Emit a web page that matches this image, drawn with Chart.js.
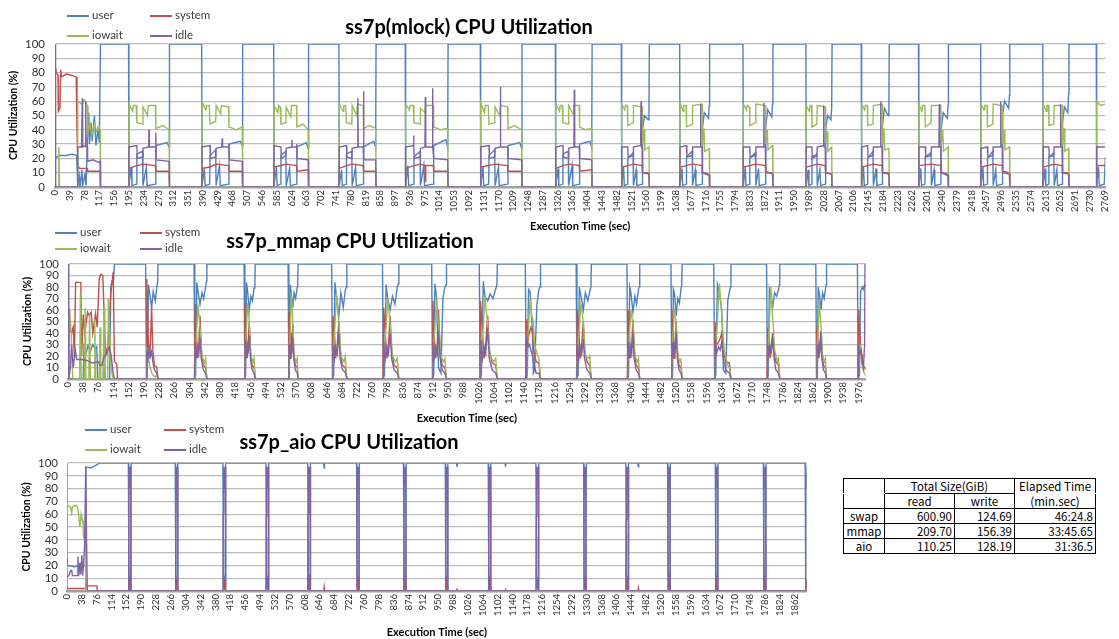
<!DOCTYPE html>
<html>
<head>
<meta charset="utf-8">
<script src="https://cdn.jsdelivr.net/npm/chart.js@4.4.1/dist/chart.umd.min.js"></script>
<style>
    body { margin: 0; width: 1119px; height: 639px; overflow: hidden; background: #fff; position: relative; font-family: Lato, "Noto Sans", sans-serif; }
    .box { position: absolute; }
    .title { position: absolute; font-weight: bold; font-size: 20px; color: #000; white-space: nowrap; transform: translate(-50%, -50%); }
    .lgItem { position: absolute; font-size: 11.5px; color: #404040; white-space: nowrap; transform: translateY(-50%); line-height: 12px; }
    .lgItem span { display: inline-block; width: 22px; height: 2px; vertical-align: middle; margin-right: 3px; }
    #sizeTable { position: absolute; left: 843px; top: 478px; width: 252px; table-layout: fixed; border-collapse: collapse; font-family: "Noto Sans CJK JP", sans-serif; font-size: 11.5px; color: #000; }
    #sizeTable td { border: 1px solid #000; height: 14px; padding: 0 2px; line-height: 13px; white-space: nowrap; overflow: hidden; }
</style>
</head>
<body>
<div class="box" style="left:0;top:0;width:1119px;height:238px"><canvas id="mlockChart" width="1119" height="238"></canvas></div>
<div class="box" style="left:0;top:238px;width:873px;height:192px"><canvas id="mmapChart" width="873" height="192"></canvas></div>
<div class="box" style="left:0;top:430px;width:809px;height:209px"><canvas id="aioChart" width="809" height="209"></canvas></div>
<div class="title" style="left:469px;top:26px">ss7p(mlock) CPU Utilization</div>
<div class="title" style="left:350px;top:240px">ss7p_mmap CPU Utilization</div>
<div class="title" style="left:349px;top:441px">ss7p_aio CPU Utilization</div>
<table id="sizeTable"></table>
<script>
// Series names and colours
const SERIES_NAMES = ['user', 'system', 'iowait', 'idle'];
const SERIES_COLORS = ['#4F81BD', '#C0504D', '#9BBB59', '#8064A2'];

// ss7p(mlock) - [sec, %]
const mlockUser = [
    [0,0],[1,20],[10,22],[30,22],[45,23],[57,22],[60,1],[64,8],[66,0],[71,12],[73,1],[79,9],[82,1],[86,36],[89,52],[91,30],[95,45],[98,32],[104,50],[108,29],[113,40],[117,31],[120,100],
    [194,100],[195,1],[201,14],[203,1],[215,2],[216,23],[231,25],[232,1],[241,14],[243,1],[265,2],[266,29],[296,31],[301,28],[302,100],
    [387,100],[388,1],[394,13],[396,1],[408,2],[409,22],[424,26],[425,1],[434,15],[436,1],[458,2],[459,30],[489,32],[494,29],[495,100],
    [577,100],[578,1],[584,14],[586,1],[595,2],[596,22],[609,25],[610,1],[619,13],[621,1],[637,2],[638,28],[663,31],[668,27],[669,100],
    [749,100],[750,1],[756,12],[758,1],[768,2],[769,23],[783,25],[784,1],[793,14],[795,1],[813,2],[814,28],[841,32],[846,28],[847,100],
    [924,100],[925,1],[931,15],[933,1],[946,2],[947,21],[963,25],[964,1],[973,15],[975,1],[998,2],[999,29],[1031,33],[1036,28],[1037,100],
    [1122,100],[1123,1],[1129,14],[1131,1],[1144,2],[1145,22],[1160,26],[1161,1],[1170,14],[1172,1],[1194,2],[1195,29],[1226,31],[1231,27],[1232,100],
    [1320,100],[1321,1],[1327,13],[1329,1],[1339,2],[1340,23],[1354,25],[1355,1],[1364,15],[1366,1],[1383,2],[1384,30],[1411,32],[1416,28],[1417,100],
    [1494,100],[1495,1],[1500,14],[1502,1],[1510,2],[1511,20],[1525,24],[1526,1],[1533,12],[1535,1],[1549,2],[1550,40],[1555,50],[1565,47],[1567,55],[1568,100],
    [1648,100],[1649,1],[1654,13],[1656,1],[1665,2],[1666,21],[1681,25],[1682,1],[1689,12],[1691,1],[1707,2],[1708,41],[1713,52],[1724,48],[1726,57],[1727,100],
    [1815,100],[1816,1],[1821,14],[1823,1],[1832,2],[1833,20],[1848,24],[1849,1],[1856,13],[1858,1],[1874,2],[1875,42],[1880,54],[1891,49],[1893,58],[1894,100],
    [1981,100],[1982,1],[1987,12],[1989,1],[1996,2],[1997,21],[2010,23],[2011,1],[2018,12],[2020,1],[2032,2],[2033,40],[2038,50],[2047,47],[2049,55],[2050,100],
    [2127,100],[2128,1],[2133,14],[2135,1],[2143,2],[2144,20],[2158,25],[2159,1],[2166,13],[2168,1],[2182,2],[2183,43],[2188,55],[2198,50],[2200,62],[2201,100],
    [2278,100],[2279,1],[2284,13],[2286,1],[2295,2],[2296,21],[2311,24],[2312,1],[2319,12],[2321,1],[2337,2],[2338,40],[2343,52],[2354,48],[2356,57],[2357,100],
    [2442,100],[2443,1],[2448,14],[2450,1],[2459,2],[2460,20],[2474,25],[2475,1],[2482,12],[2484,1],[2499,2],[2500,50],[2505,60],[2516,55],[2518,64],[2519,100],
    [2606,100],[2607,1],[2612,13],[2614,1],[2621,2],[2622,21],[2635,24],[2636,1],[2643,12],[2645,1],[2657,2],[2658,45],[2663,56],[2672,52],[2674,65],[2675,100],
    [2747,100],[2748,1],[2753,14],[2755,1],[2768,2],[2771,21]
];
const mlockSystem = [
    [0,0],[1,84],[4,80],[8,78],[9,53],[13,55],[15,82],[17,77],[30,79],[45,78],[56,77],[58,40],[60,15],[65,13],[85,13],[86,11],[119,11],[120,0],
    [194,0],[195,13],[216,15],[232,16],[265,15],[266,11],[301,11],[302,0],
    [387,0],[388,13],[409,14],[425,16],[458,15],[459,11],[494,11],[495,0],
    [577,0],[578,14],[596,15],[610,16],[637,15],[638,11],[668,12],[669,0],
    [749,0],[750,13],[769,15],[784,16],[813,15],[814,11],[846,11],[847,0],
    [924,0],[925,13],[947,15],[964,16],[976,15],[977,4],[978,15],[998,15],[999,11],[1036,11],[1037,0],
    [1122,0],[1123,14],[1145,15],[1161,16],[1194,15],[1195,11],[1231,11],[1232,0],
    [1320,0],[1321,13],[1340,15],[1355,16],[1383,15],[1384,11],[1416,12],[1417,0],
    [1494,0],[1495,14],[1526,16],[1549,15],[1550,10],[1567,10],[1568,0],
    [1648,0],[1649,14],[1682,16],[1707,15],[1708,10],[1726,9],[1727,0],
    [1815,0],[1816,14],[1849,16],[1874,15],[1875,10],[1893,10],[1894,0],
    [1981,0],[1982,14],[2011,16],[2032,15],[2033,10],[2049,9],[2050,0],
    [2127,0],[2128,14],[2159,16],[2182,15],[2183,10],[2200,10],[2201,0],
    [2278,0],[2279,15],[2312,16],[2337,15],[2338,10],[2356,9],[2357,0],
    [2442,0],[2443,14],[2475,16],[2499,15],[2500,11],[2518,10],[2519,0],
    [2606,0],[2607,14],[2636,16],[2657,15],[2658,10],[2674,10],[2675,0],
    [2747,0],[2748,15],[2771,15]
];
const mlockIowait = [
    [0,0],[9,0],[10,28],[12,0],[59,0],[60,60],[70,58],[78,61],[85,57],[87,38],[92,44],[97,36],[104,44],[110,39],[117,42],[119,40],[120,0],
    [194,0],[195,58],[205,53],[207,57],[214,57],[216,45],[231,44],[232,56],[244,50],[246,57],[265,57],[266,41],[285,43],[301,40],[302,0],
    [387,0],[388,59],[398,54],[400,57],[407,57],[409,44],[424,46],[425,57],[437,51],[439,57],[458,56],[459,42],[478,40],[494,42],[495,0],
    [577,0],[578,57],[588,52],[590,57],[594,56],[596,44],[609,45],[610,56],[622,49],[624,57],[637,57],[638,42],[654,44],[668,40],[669,0],
    [749,0],[750,58],[760,53],[762,57],[767,57],[769,45],[783,44],[784,57],[796,50],[798,58],[813,57],[814,41],[830,43],[846,41],[847,0],
    [924,0],[925,58],[935,54],[937,57],[945,57],[947,45],[963,44],[964,55],[976,52],[978,57],[998,57],[999,42],[1018,40],[1036,41],[1037,0],
    [1122,0],[1123,59],[1133,52],[1135,57],[1143,57],[1145,44],[1160,45],[1161,56],[1173,50],[1175,57],[1194,56],[1195,41],[1213,43],[1231,40],[1232,0],
    [1320,0],[1321,58],[1331,53],[1333,57],[1338,57],[1340,45],[1354,44],[1355,57],[1367,51],[1369,57],[1383,57],[1384,42],[1400,40],[1416,41],[1417,0],
    [1494,0],[1495,58],[1503,54],[1505,57],[1510,57],[1511,43],[1525,45],[1526,57],[1549,56],[1550,30],[1554,40],[1556,26],[1567,28],[1568,0],
    [1648,0],[1649,59],[1657,53],[1659,57],[1665,57],[1666,42],[1681,44],[1682,57],[1707,58],[1708,29],[1712,41],[1714,25],[1726,27],[1727,0],
    [1815,0],[1816,58],[1824,54],[1826,57],[1832,56],[1833,43],[1848,45],[1849,58],[1874,57],[1875,30],[1879,40],[1881,26],[1893,29],[1894,0],
    [1981,0],[1982,57],[1990,53],[1992,57],[1996,57],[1997,42],[2010,44],[2011,57],[2032,56],[2033,31],[2037,39],[2039,25],[2049,28],[2050,0],
    [2127,0],[2128,58],[2136,54],[2138,57],[2143,57],[2144,43],[2158,44],[2159,57],[2182,58],[2183,30],[2187,41],[2189,26],[2200,27],[2201,0],
    [2278,0],[2279,58],[2287,53],[2289,57],[2295,57],[2296,42],[2311,45],[2312,57],[2337,57],[2338,29],[2342,40],[2344,25],[2356,28],[2357,0],
    [2442,0],[2443,58],[2451,54],[2453,57],[2459,57],[2460,42],[2474,44],[2475,58],[2499,57],[2500,30],[2504,40],[2506,26],[2518,28],[2519,0],
    [2606,0],[2607,58],[2615,53],[2617,57],[2621,57],[2622,43],[2635,44],[2636,57],[2657,57],[2658,29],[2662,41],[2664,25],[2674,27],[2675,0],
    [2747,0],[2748,60],[2758,57],[2771,58]
];
const mlockIdle = [
    [0,100],[1,100],[2,0],[59,0],[60,28],[70,28],[72,62],[73,28],[80,29],[81,60],[82,28],[85,28],[86,18],[100,19],[117,17],[119,18],[120,0],
    [194,0],[195,28],[216,29],[217,20],[231,21],[232,27],[247,28],[248,40],[249,28],[265,28],[266,38],[267,19],[301,18],[302,0],
    [387,0],[388,28],[409,29],[410,20],[424,21],[425,27],[440,28],[441,34],[442,28],[458,28],[459,30],[460,19],[494,18],[495,0],
    [577,0],[578,29],[596,28],[597,20],[609,22],[610,27],[624,28],[625,33],[626,28],[637,28],[638,30],[639,20],[668,19],[669,0],
    [749,0],[750,28],[769,29],[770,21],[783,20],[784,27],[798,28],[799,62],[800,28],[813,28],[814,67],[815,19],[846,19],[847,0],
    [924,0],[925,28],[945,29],[946,36],[947,28],[948,20],[963,21],[964,27],[976,28],[977,63],[978,28],[995,28],[996,69],[997,28],[999,20],[1036,19],[1037,0],
    [1122,0],[1123,28],[1145,29],[1146,20],[1160,21],[1161,27],[1174,28],[1175,70],[1176,28],[1194,28],[1195,20],[1231,19],[1232,0],
    [1320,0],[1321,28],[1340,29],[1341,21],[1354,20],[1355,27],[1369,28],[1370,68],[1371,28],[1383,28],[1384,20],[1416,19],[1417,0],
    [1494,0],[1495,28],[1511,28],[1512,21],[1525,22],[1526,28],[1545,29],[1546,60],[1547,28],[1549,28],[1550,10],[1567,9],[1568,0],
    [1648,0],[1649,28],[1666,29],[1667,21],[1681,22],[1682,28],[1702,28],[1703,58],[1704,28],[1707,28],[1708,10],[1726,8],[1727,0],
    [1815,0],[1816,28],[1833,28],[1834,21],[1848,22],[1849,28],[1869,28],[1870,59],[1871,28],[1874,28],[1875,11],[1893,9],[1894,0],
    [1981,0],[1982,28],[1997,28],[1998,20],[2010,22],[2011,28],[2027,29],[2028,57],[2029,28],[2032,28],[2033,10],[2049,9],[2050,0],
    [2127,0],[2128,28],[2144,29],[2145,21],[2158,22],[2159,28],[2177,28],[2178,60],[2179,28],[2182,28],[2183,10],[2200,9],[2201,0],
    [2278,0],[2279,28],[2296,28],[2297,21],[2311,22],[2312,28],[2332,28],[2333,58],[2334,28],[2337,28],[2338,10],[2356,8],[2357,0],
    [2442,0],[2443,27],[2460,28],[2461,21],[2474,22],[2475,28],[2494,28],[2495,60],[2496,28],[2499,28],[2500,10],[2518,9],[2519,0],
    [2606,0],[2607,28],[2622,28],[2623,21],[2635,22],[2636,28],[2652,28],[2653,58],[2654,28],[2657,28],[2658,10],[2674,9],[2675,0],
    [2747,0],[2748,28],[2771,28]
];

// ss7p_mmap - [sec, %]
const mmapUser = [
    [0,0],[38,0],[40,28],[45,22],[50,29],[56,24],[62,30],[68,26],[72,28],[74,0],[88,0],[90,34],[93,0],[104,0],[107,80],[110,85],[114,86],[116,100],
    [194,100],[196,2],[198,3],[201,82],[204,75],[209,62],[213,76],[218,68],[222,80],[224,84],[225,100],
    [315,100],[317,2],[319,3],[322,84],[325,76],[330,65],[335,75],[339,70],[344,80],[346,85],[347,100],
    [440,100],[442,2],[444,3],[446,84],[449,76],[453,60],[457,72],[461,68],[465,79],[467,84],[468,100],
    [550,100],[552,2],[553,3],[556,82],[558,74],[562,62],[565,75],[569,70],[573,80],[574,83],[575,100],
    [659,100],[661,2],[664,3],[667,84],[671,72],[677,55],[682,75],[688,62],[693,77],[696,80],[697,100],
    [786,100],[788,2],[791,3],[795,82],[799,70],[805,60],[811,72],[817,65],[823,80],[826,83],[827,100],
    [909,100],[911,2],[914,3],[917,83],[921,72],[926,10],[932,5],[937,70],[942,80],[945,82],[946,100],
    [1028,100],[1030,2],[1033,3],[1038,85],[1042,72],[1049,68],[1055,74],[1062,70],[1069,78],[1072,82],[1073,100],
    [1143,100],[1145,2],[1148,3],[1151,78],[1155,76],[1161,40],[1163,5],[1166,8],[1172,65],[1177,78],[1180,80],[1181,100],
    [1270,100],[1272,2],[1275,3],[1278,80],[1282,72],[1288,60],[1293,75],[1299,68],[1304,76],[1307,80],[1308,100],
    [1397,100],[1399,2],[1401,3],[1404,80],[1407,75],[1412,58],[1417,72],[1421,65],[1426,78],[1428,80],[1429,100],
    [1507,100],[1509,2],[1511,3],[1513,78],[1516,74],[1520,55],[1524,70],[1528,66],[1532,78],[1534,82],[1535,100],
    [1614,100],[1616,2],[1619,3],[1623,82],[1628,75],[1634,60],[1638,8],[1644,5],[1649,68],[1653,76],[1656,80],[1657,100],
    [1746,100],[1748,2],[1750,3],[1753,78],[1757,72],[1761,62],[1766,75],[1771,72],[1776,78],[1778,82],[1779,100],
    [1869,100],[1871,2],[1873,3],[1875,80],[1878,74],[1882,60],[1886,75],[1890,70],[1893,78],[1895,82],[1896,100],
    [1973,100],[1975,2],[1978,3],[1981,76],[1985,80],[1988,78],[1991,82],[1993,80]
];
const mmapSystem = [
    [0,0],[2,53],[5,42],[9,40],[13,45],[16,20],[19,84],[26,84],[32,84],[34,20],[38,56],[42,40],[49,58],[53,55],[58,58],[62,40],[69,57],[73,45],[78,87],[82,91],[87,90],[90,60],[94,20],[100,30],[107,75],[113,93],[116,15],[122,13],[124,0],
    [195,0],[197,87],[200,40],[203,18],[206,30],[209,63],[212,25],[216,12],[222,10],[225,0],
    [316,0],[318,65],[321,40],[324,18],[327,30],[330,55],[333,25],[338,12],[344,10],[347,0],
    [441,0],[442,66],[445,40],[448,18],[450,30],[453,50],[456,25],[460,12],[465,10],[468,0],
    [551,0],[552,58],[555,40],[557,18],[559,30],[562,48],[564,25],[568,12],[573,10],[575,0],
    [660,0],[662,55],[666,40],[669,18],[673,30],[677,50],[680,25],[686,12],[693,10],[697,0],
    [787,0],[789,62],[793,40],[797,18],[801,30],[805,55],[809,25],[815,12],[823,10],[827,0],
    [910,0],[912,68],[915,40],[919,18],[923,30],[926,60],[930,25],[935,12],[942,10],[946,0],
    [1029,0],[1031,68],[1036,40],[1040,18],[1044,30],[1049,55],[1053,25],[1060,14],[1069,12],[1073,0],
    [1144,0],[1146,52],[1150,35],[1153,40],[1157,45],[1161,40],[1164,25],[1170,15],[1177,14],[1181,0],
    [1271,0],[1273,60],[1277,40],[1280,18],[1284,30],[1288,50],[1291,25],[1297,15],[1304,12],[1308,0],
    [1398,0],[1400,60],[1403,40],[1406,18],[1409,30],[1412,52],[1415,25],[1420,12],[1426,10],[1429,0],
    [1508,0],[1509,60],[1512,40],[1515,18],[1517,30],[1520,50],[1523,25],[1527,12],[1532,10],[1535,0],
    [1615,0],[1617,50],[1621,30],[1626,32],[1630,35],[1634,40],[1638,25],[1644,15],[1653,14],[1657,0],
    [1747,0],[1749,45],[1752,35],[1755,18],[1758,30],[1761,40],[1765,22],[1769,15],[1776,12],[1779,0],
    [1870,0],[1871,45],[1874,35],[1877,18],[1879,30],[1882,42],[1884,25],[1888,12],[1893,10],[1896,0],
    [1974,0],[1976,60],[1979,40],[1982,25],[1985,20],[1988,12],[1991,10],[1993,8]
];
const mmapIowait = [
    [0,0],[2,0],[4,61],[8,40],[12,0],[29,0],[31,75],[33,0],[41,0],[43,62],[45,0],[52,0],[54,56],[56,0],[65,0],[67,52],[69,0],[78,0],[80,45],[82,0],[88,0],[90,62],[92,0],[99,0],[101,70],[104,40],[108,10],[112,0],
    [196,0],[197,25],[201,20],[204,12],[207,8],[210,5],[213,3],[219,2],[222,3],[225,0],
    [317,0],[319,25],[322,45],[325,65],[328,52],[331,40],[335,20],[341,14],[344,18],[347,0],
    [442,0],[443,25],[446,45],[449,66],[452,55],[454,40],[457,20],[463,15],[465,18],[468,0],
    [552,0],[553,25],[556,45],[558,75],[561,58],[563,40],[565,20],[570,15],[573,18],[575,0],
    [661,0],[663,25],[667,45],[671,75],[675,56],[679,40],[682,20],[690,15],[693,20],[697,0],
    [788,0],[790,25],[795,45],[799,70],[803,55],[807,40],[811,20],[819,15],[823,18],[827,0],
    [911,0],[913,25],[917,45],[921,70],[924,55],[928,40],[932,20],[939,15],[942,18],[946,0],
    [1030,0],[1033,25],[1038,45],[1042,72],[1047,55],[1051,40],[1055,20],[1064,15],[1069,18],[1073,0],
    [1145,0],[1147,25],[1151,45],[1155,70],[1159,55],[1163,50],[1166,30],[1174,20],[1177,18],[1181,0],
    [1272,0],[1274,25],[1278,45],[1282,65],[1286,55],[1290,40],[1293,20],[1301,18],[1304,20],[1308,0],
    [1399,0],[1401,25],[1404,45],[1407,60],[1410,52],[1414,40],[1417,20],[1423,15],[1426,18],[1429,0],
    [1509,0],[1510,25],[1513,45],[1516,62],[1519,52],[1521,40],[1524,20],[1530,15],[1532,18],[1535,0],
    [1616,0],[1618,25],[1623,50],[1628,83],[1632,65],[1636,45],[1640,25],[1649,12],[1653,10],[1657,0],
    [1748,0],[1750,25],[1753,50],[1757,80],[1760,60],[1763,45],[1766,25],[1773,15],[1776,18],[1779,0],
    [1871,0],[1872,25],[1875,45],[1878,68],[1880,55],[1883,40],[1886,20],[1891,15],[1893,18],[1896,0],
    [1975,0],[1977,20],[1980,30],[1983,15],[1986,10],[1990,5],[1993,3]
];
const mmapIdle = [
    [0,100],[2,0],[6,10],[9,30],[13,10],[18,25],[22,17],[35,17],[49,16],[60,14],[76,15],[80,12],[85,12],[90,20],[97,22],[103,28],[108,20],[113,5],[116,0],
    [196,0],[197,25],[200,18],[203,30],[206,20],[209,24],[212,15],[216,8],[222,5],[225,0],
    [317,0],[318,32],[321,18],[324,28],[327,22],[330,36],[333,18],[338,8],[344,5],[347,0],
    [442,0],[443,34],[445,18],[448,28],[450,22],[453,38],[456,18],[460,8],[465,5],[468,0],
    [552,0],[553,30],[555,18],[557,28],[559,22],[562,36],[564,18],[568,8],[573,5],[575,0],
    [661,0],[662,30],[666,18],[669,28],[673,22],[677,40],[680,18],[686,8],[693,6],[697,0],
    [788,0],[789,32],[793,18],[797,28],[801,22],[805,40],[809,18],[815,8],[823,5],[827,0],
    [911,0],[912,32],[915,18],[919,28],[923,22],[926,42],[930,18],[935,8],[942,5],[946,0],
    [1030,0],[1032,34],[1036,18],[1040,28],[1044,22],[1049,44],[1053,18],[1060,8],[1069,5],[1073,0],
    [1145,0],[1146,38],[1150,28],[1153,30],[1157,25],[1161,20],[1164,15],[1170,5],[1177,5],[1181,0],
    [1272,0],[1273,30],[1277,18],[1280,28],[1284,22],[1288,35],[1291,18],[1297,8],[1304,5],[1308,0],
    [1399,0],[1400,32],[1403,18],[1406,28],[1409,22],[1412,40],[1415,18],[1420,8],[1426,5],[1429,0],
    [1509,0],[1510,32],[1512,18],[1515,28],[1517,22],[1520,40],[1523,18],[1527,8],[1532,5],[1535,0],
    [1616,0],[1617,35],[1621,22],[1626,28],[1630,25],[1634,32],[1638,18],[1644,8],[1653,5],[1657,0],
    [1748,0],[1749,30],[1752,22],[1755,28],[1758,24],[1761,36],[1765,18],[1769,8],[1776,5],[1779,0],
    [1871,0],[1872,30],[1874,18],[1877,28],[1879,22],[1882,40],[1884,18],[1888,8],[1893,5],[1896,0],
    [1975,0],[1976,30],[1979,22],[1982,25],[1985,15],[1988,10],[1991,30],[1992,100],[1994,100]
];

// ss7p_aio - [sec, %]
const aioUser = [
    [0,25],[1,20],[20,19],[40,20],[47,20],[48,97],[60,96],[66,97],[72,98],[78,99],[84,100],
    [157,100],[158,40],[159,2],[162,12],[163,2],[164,100],
    [277,100],[278,45],[279,2],[282,11],[283,2],[284,100],
    [399,100],[400,40],[401,2],[404,12],[405,2],[406,100],
    [509,100],[510,42],[511,2],[514,12],[515,2],[516,100],
    [616,100],[617,40],[618,2],[621,13],[622,2],[623,100],
    [657,100],[658,96],[659,100],
    [741,100],[742,40],[743,2],[746,12],[747,2],[748,100],
    [861,100],[862,45],[863,2],[866,12],[867,2],[868,100],
    [968,100],[969,40],[970,2],[973,12],[974,2],[975,100],
    [997,100],[998,97],[999,100],
    [1078,100],[1079,40],[1080,2],[1083,12],[1084,2],[1085,100],
    [1121,100],[1122,97],[1123,100],
    [1200,100],[1201,42],[1202,2],[1205,11],[1206,2],[1207,100],
    [1322,100],[1323,40],[1324,2],[1327,12],[1328,2],[1329,100],
    [1430,100],[1431,44],[1432,2],[1435,12],[1436,2],[1437,100],
    [1461,100],[1462,97],[1463,100],
    [1537,100],[1538,40],[1539,2],[1542,13],[1543,2],[1544,100],
    [1659,100],[1660,42],[1661,2],[1664,12],[1665,2],[1666,100],
    [1782,100],[1783,40],[1784,2],[1787,12],[1788,2],[1789,100],
    [1889,100],[1890,40],[1891,2],[1893,10]
];
const aioSystem = [
    [0,2],[47,2],[48,10],[49,4],[76,4],[78,0],
    [157,0],[160,1],[161,10],[162,3],[164,0],
    [277,0],[280,1],[281,10],[282,3],[284,0],
    [399,0],[402,1],[403,9],[404,3],[406,0],
    [509,0],[512,1],[513,10],[514,3],[516,0],
    [616,0],[619,1],[620,10],[621,3],[623,0],
    [657,0],[658,3],[659,0],
    [741,0],[744,1],[745,10],[746,3],[748,0],
    [861,0],[864,1],[865,10],[866,3],[868,0],
    [968,0],[971,1],[972,10],[973,3],[975,0],
    [997,0],[998,2],[999,0],
    [1078,0],[1081,1],[1082,10],[1083,3],[1085,0],
    [1121,0],[1122,2],[1123,0],
    [1200,0],[1203,1],[1204,10],[1205,3],[1207,0],
    [1322,0],[1325,1],[1326,10],[1327,3],[1329,0],
    [1430,0],[1433,1],[1434,10],[1435,3],[1437,0],
    [1461,0],[1462,2],[1463,0],
    [1537,0],[1540,1],[1541,10],[1542,3],[1544,0],
    [1659,0],[1662,1],[1663,10],[1664,3],[1666,0],
    [1782,0],[1785,1],[1786,10],[1787,3],[1789,0],
    [1889,0],[1892,1],[1893,8]
];
const aioIowait = [
    [0,67],[8,66],[12,61],[14,66],[24,67],[28,64],[31,55],[33,50],[36,60],[38,57],[41,55],[42,43],[45,40],[47,27],[48,0],[1893,0]
];
const aioIdle = [
    [0,11],[5,12],[9,16],[12,16],[14,12],[26,12],[28,27],[30,12],[33,22],[35,13],[38,28],[40,12],[42,20],[45,35],[48,97],[50,40],[52,0],
    [157,0],[158,60],[159,97],[160,80],[161,92],[162,85],[163,97],[164,0],
    [277,0],[278,55],[279,97],[280,82],[281,93],[282,86],[283,97],[284,0],
    [399,0],[400,60],[401,97],[402,80],[403,92],[404,85],[405,97],[406,0],
    [509,0],[510,58],[511,97],[512,81],[513,92],[514,84],[515,97],[516,0],
    [616,0],[617,60],[618,97],[619,80],[620,91],[621,85],[622,97],[623,0],
    [741,0],[742,60],[743,97],[744,80],[745,92],[746,85],[747,97],[748,0],
    [861,0],[862,55],[863,97],[864,82],[865,93],[866,86],[867,97],[868,0],
    [968,0],[969,60],[970,97],[971,80],[972,92],[973,85],[974,97],[975,0],
    [1078,0],[1079,60],[1080,97],[1081,80],[1082,92],[1083,85],[1084,97],[1085,0],
    [1200,0],[1201,58],[1202,97],[1203,80],[1204,92],[1205,84],[1206,97],[1207,0],
    [1322,0],[1323,60],[1324,97],[1325,80],[1326,92],[1327,85],[1328,97],[1329,0],
    [1430,0],[1431,56],[1432,97],[1433,81],[1434,93],[1435,85],[1436,97],[1437,0],
    [1537,0],[1538,60],[1539,97],[1540,80],[1541,92],[1542,85],[1543,97],[1544,0],
    [1659,0],[1660,58],[1661,97],[1662,80],[1663,92],[1664,85],[1665,97],[1666,0],
    [1782,0],[1783,60],[1784,97],[1785,80],[1786,92],[1787,85],[1788,97],[1789,0],
    [1889,0],[1890,60],[1891,97],[1892,80],[1893,90]
];

// Table values
const tableHeader = [['', 'Total Size(GiB)', 'Elapsed Time'], ['', 'read', 'write', '(min.sec)']];
const tableRows = [
    ['swap', '600.90', '124.69', '46:24.8'],
    ['mmap', '209.70', '156.39', '33:45.65'],
    ['aio', '110.25', '128.19', '31:36.5']
];
const tableColWidths = [41, 70, 60, 81];

const FONT = 'Lato, "Noto Sans", sans-serif';

function toXY(pairs) {
    return pairs.map(p => ({ x: p[0], y: p[1] }));
}

// Build one CPU chart
function buildChart(canvasId, series, cfg) {
    return new Chart(document.getElementById(canvasId), {
        type: 'line',
        data: {
            datasets: series.map((data, i) => ({
                label: SERIES_NAMES[i],
                data: toXY(data),
                borderColor: SERIES_COLORS[i],
                borderWidth: 1.4,
                pointRadius: 0,
                tension: 0,
                order: 3 - i
            }))
        },
        options: {
            responsive: false,
            animation: false,
            events: [],
            layout: { padding: { top: cfg.padTop, left: 0, right: 0, bottom: 0 }, autoPadding: false },
            plugins: { legend: { display: false }, title: { display: false }, tooltip: { enabled: false } },
            scales: {
                x: {
                    type: 'linear',
                    min: 0,
                    max: cfg.xMax,
                    ticks: {
                        stepSize: cfg.step,
                        autoSkip: false,
                        includeBounds: false,
                        minRotation: 90,
                        maxRotation: 90,
                        padding: 3,
                        color: '#333',
                        font: { family: FONT, size: 9.5 },
                        callback: v => String(v)
                    },
                    grid: { display: false, drawTicks: false },
                    border: { display: true, color: '#a0a0a0', width: 2.5 },
                    title: {
                        display: true,
                        text: 'Execution Time (sec)',
                        color: '#000',
                        font: { family: FONT, size: 11, weight: 'bold' },
                        padding: { top: 0, bottom: cfg.xTitlePad }
                    },
                    afterFit: scale => { scale.height = cfg.xHeight; }
                },
                y: {
                    min: 0,
                    max: 100,
                    ticks: {
                        stepSize: 10,
                        autoSkip: false,
                        padding: cfg.yTickPad,
                        color: '#333',
                        font: { family: FONT, size: 11.5 }
                    },
                    grid: { color: '#bdbdbd', lineWidth: 1.3, drawTicks: false },
                    border: { display: true, color: '#a0a0a0', width: 1 },
                    title: {
                        display: true,
                        text: 'CPU Utilization (%)',
                        color: '#000',
                        font: { family: FONT, size: 10.5, weight: 'bold' },
                        padding: { top: cfg.yTitlePad, bottom: 0 }
                    },
                    afterFit: scale => { scale.width = cfg.yWidth; }
                }
            }
        }
    });
}

// Legends drawn as html, 2 x 2
function addLegend(x, y, colGap, rowGap) {
    SERIES_NAMES.forEach((name, i) => {
        const el = document.createElement('div');
        el.className = 'lgItem';
        el.style.left = (x + (i % 2) * colGap) + 'px';
        el.style.top = (y + Math.floor(i / 2) * rowGap) + 'px';
        el.innerHTML = `<span style="background:${SERIES_COLORS[i]}"></span>${name}`;
        document.body.appendChild(el);
    });
}

function buildTable() {
    const table = document.getElementById('sizeTable');
    let html = '<colgroup>' + tableColWidths.map(w => `<col style="width:${w}px">`).join('') + '</colgroup>';
    html += '<tr><td style="border-bottom-color:#fff"></td>';
    html += `<td colspan="2" style="text-align:center">${tableHeader[0][1]}</td>`;
    html += `<td style="text-align:center;border-bottom-color:#fff">${tableHeader[0][2]}</td></tr>`;
    html += '<tr><td></td>';
    html += `<td style="text-align:center">${tableHeader[1][1]}</td>`;
    html += `<td style="text-align:center">${tableHeader[1][2]}</td>`;
    html += `<td style="text-align:center">${tableHeader[1][3]}</td></tr>`;
    tableRows.forEach(r => {
        html += `<tr><td style="text-align:center">${r[0]}</td><td style="text-align:right">${r[1]}</td><td style="text-align:right">${r[2]}</td><td style="text-align:right">${r[3]}</td></tr>`;
    });
    table.innerHTML = html;
}

buildChart('mlockChart', [mlockUser, mlockSystem, mlockIowait, mlockIdle],
    { xMax: 2771, step: 39, padTop: 44, xHeight: 51, xTitlePad: 5, yWidth: 55, yTickPad: 10, yTitlePad: 7 });
buildChart('mmapChart', [mmapUser, mmapSystem, mmapIowait, mmapIdle],
    { xMax: 1994, step: 38, padTop: 26, xHeight: 51, xTitlePad: 5, yWidth: 68, yTickPad: 9, yTitlePad: 21 });
buildChart('aioChart', [aioUser, aioSystem, aioIowait, aioIdle],
    { xMax: 1893, step: 38, padTop: 33, xHeight: 48, xTitlePad: 0, yWidth: 67, yTickPad: 9, yTitlePad: 20 });

addLegend(67, 15, 83, 20);
addLegend(55, 232, 85, 16);
addLegend(85, 429, 79, 20);
buildTable();
</script>
</body>
</html>
